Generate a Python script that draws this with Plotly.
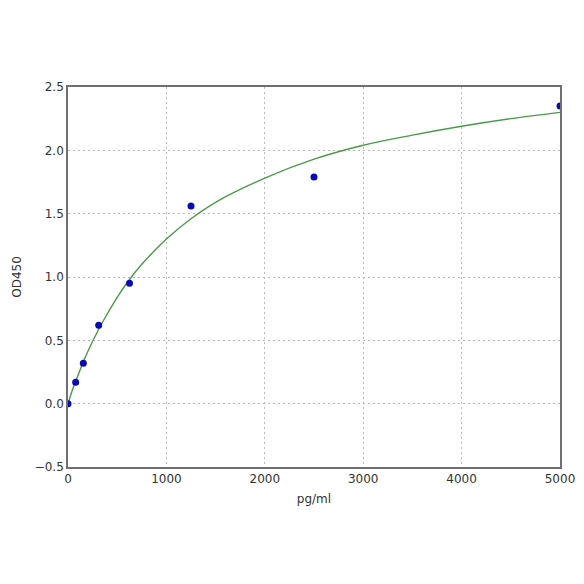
import plotly.graph_objects as go

# measured standards
conc = [0, 78, 156, 312, 625, 1250, 2500, 5000]
od = [0.00, 0.17, 0.32, 0.62, 0.95, 1.56, 1.79, 2.35]

# fitted curve
fit_x = [0, 50, 100, 150, 200, 300, 400, 500, 625, 750, 1000, 1250, 1500,
         2000, 2500, 3000, 3500, 4000, 4500, 5000]
fit_y = [0.00, 0.12, 0.22, 0.32, 0.41, 0.57, 0.71, 0.84, 0.98, 1.10, 1.30, 1.46, 1.59,
         1.78, 1.93, 2.04, 2.12, 2.19, 2.25, 2.30]

fig = go.Figure()
fig.add_trace(go.Scatter(x=fit_x, y=fit_y, mode="lines",
                         line=dict(color="#4a9a4a", width=1.4, shape="spline"),
                         name="fit"))
fig.add_trace(go.Scatter(x=conc, y=od, mode="markers",
                         marker=dict(color="#0a0ab0", size=7), name="standards"))

axis_style = dict(showline=True, linecolor="#707070", linewidth=1.6, mirror=True,
                  showgrid=True, gridcolor="#b8b8b8", griddash="2px,3px", gridwidth=1,
                  zeroline=False, ticks="", automargin=False,
                  tickfont=dict(family="DejaVu Sans", size=12, color="#333333"))

fig.update_xaxes(range=[0, 5000], tickvals=[0, 1000, 2000, 3000, 4000, 5000],
                 title=dict(text="pg/ml", standoff=9,
                            font=dict(family="DejaVu Sans", size=12, color="#333333")),
                 **axis_style)
fig.update_yaxes(range=[-0.5, 2.5], tickvals=[-0.5, 0, 0.5, 1.0, 1.5, 2.0, 2.5],
                 tickformat=".1f",
                 title=dict(text="OD450", standoff=10,
                            font=dict(family="DejaVu Sans", size=12, color="#333333")),
                 **axis_style)

# the page body adds an 8px offset, so margins are shifted to compensate
fig.update_layout(width=584, height=584, showlegend=False,
                  margin=dict(l=60, r=32, t=79, b=125),
                  plot_bgcolor="white", paper_bgcolor="white")

fig.write_html("out.html")
